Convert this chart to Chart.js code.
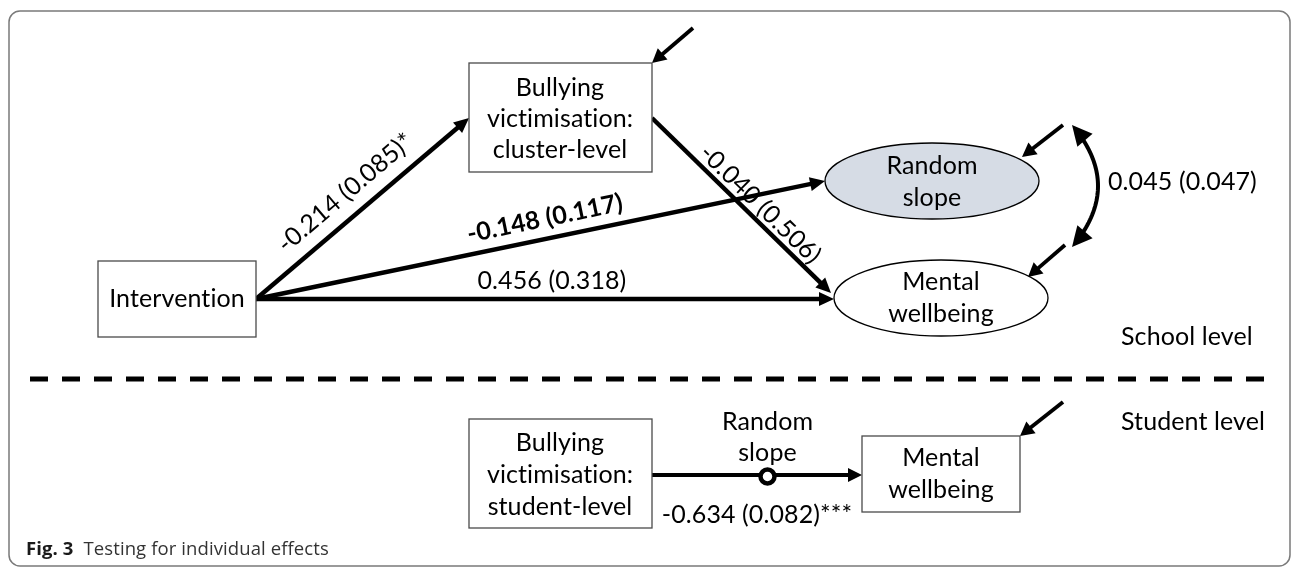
<!DOCTYPE html>
<html>
<head>
<meta charset="utf-8">
<script src="https://cdn.jsdelivr.net/npm/chart.js@4.4.1/dist/chart.umd.min.js"></script>
<style>
html,body{margin:0;padding:0;background:#fff;}
#wrap{width:1293px;height:567px;position:relative;}
canvas{font-variant-ligatures:none;}
</style>
</head>
<body>
<div id="wrap"><canvas id="c" width="1293" height="567"></canvas></div>
<script>
// ---------- DATA (text and estimates) ----------
const nodeTexts = [
  ['Intervention'],
  ['Bullying', 'victimisation:', 'cluster-level'],
  ['Random', 'slope'],
  ['Mental', 'wellbeing'],
  ['Bullying', 'victimisation:', 'student-level'],
  ['Mental', 'wellbeing']
];
const pathEstimates = ['-0.214 (0.085)*', '-0.148 (0.117)', '0.456 (0.318)', '-0.040 (0.506)'];
const covarianceEstimate = '0.045 (0.047)';
const studentEstimate = '-0.634 (0.082)***';
const randomSlopeLabel = ['Random', 'slope'];
const levelLabels = ['School level', 'Student level'];
const captionBold = 'Fig. 3';
const captionText = 'Testing for individual effects';

// ---------- LAYOUT (positions / sizes / styles) ----------
const W = 1293, H = 567;
const FONT = 'Lato, "Liberation Sans", sans-serif';
const FS = 25;
const layout = {
  nodes: [
    {shape: 'rect', x0: 98, y0: 261, x1: 256, y1: 337, cx: 177, ys: [299]},
    {shape: 'rect', x0: 469, y0: 63, x1: 652, y1: 172, cx: 560, ys: [88, 119, 150]},
    {shape: 'ellipse', cx: 932, cy: 181, rx: 107, ry: 38, fill: '#d6dce5', ys: [166, 198]},
    {shape: 'ellipse', cx: 941, cy: 298, rx: 107, ry: 38, fill: '#ffffff', ys: [282, 314]},
    {shape: 'rect', x0: 469, y0: 419, x1: 652, y1: 528, cx: 560, ys: [443, 475, 507]},
    {shape: 'rect', x0: 862, y0: 436, x1: 1020, y1: 512, cx: 941, ys: [458, 490]}
  ],
  paths: [
    {from: [256, 299], to: [469, 118], t: 0.49, off: 23, bold: false},
    {from: [256, 299], to: [825, 181], t: 0.515, off: 20, bold: true},
    {from: [256, 299], to: [834, 299], t: 0.512, off: 18, bold: false},
    {from: [652, 118], to: [831, 293], t: 0.55, off: 14, bold: false}
  ],
  residuals: [
    {from: [693, 28], to: [652, 63]},
    {from: [1063, 125], to: [1022, 157]},
    {from: [1065, 245], to: [1028, 277]},
    {from: [1063, 402], to: [1020, 436]}
  ],
  cov: {p0: [1072, 125], c: [1124, 186], p2: [1072, 247], labelX: 1108, labelY: 182},
  student: {from: [652, 475], to: [862, 475], circleT: 0.55, labelY: [422, 453], estX: 757, estY: 515},
  levels: [{x: 1121, y: 337}, {x: 1121, y: 422}],
  divider: {x0: 30, x1: 1276, y: 379},
  frame: {x0: 9, y0: 11, x1: 1290, y1: 566, r: 11},
  caption: {x: 26, y: 550}
};

const st = layout.student;
const circlePoint = {
  x: st.from[0] + (st.to[0] - st.from[0]) * st.circleT,
  y: st.from[1] + (st.to[1] - st.from[1]) * st.circleT + 1.5
};

function drawArrowHead(ctx, tx, ty, ang, hl, hw) {
  const bx = tx - hl * Math.cos(ang), by = ty - hl * Math.sin(ang);
  const nx = -Math.sin(ang), ny = Math.cos(ang);
  ctx.beginPath();
  ctx.moveTo(tx, ty);
  ctx.lineTo(bx + nx * hw, by + ny * hw);
  ctx.lineTo(bx - nx * hw, by - ny * hw);
  ctx.closePath();
  ctx.fill();
}
function drawArrow(ctx, x0, y0, x1, y1, lw, hl, hw) {
  const ang = Math.atan2(y1 - y0, x1 - x0);
  ctx.lineWidth = lw;
  ctx.beginPath();
  ctx.moveTo(x0, y0);
  ctx.lineTo(x1 - (hl - 2) * Math.cos(ang), y1 - (hl - 2) * Math.sin(ang));
  ctx.stroke();
  drawArrowHead(ctx, x1, y1, ang, hl, hw);
}

const diagramPlugin = {
  id: 'pathDiagram',
  beforeDatasetsDraw(chart) {
    const ctx = chart.ctx;
    const X = v => chart.scales.x.getPixelForValue(v);
    const Y = v => chart.scales.y.getPixelForValue(v);
    ctx.save();
    if ('letterSpacing' in ctx) ctx.letterSpacing = '0.1px';
    // frame
    const f = layout.frame;
    ctx.strokeStyle = '#7a7a7a';
    ctx.lineWidth = 1.5;
    ctx.beginPath();
    ctx.roundRect(X(f.x0), Y(f.y0), X(f.x1) - X(f.x0), Y(f.y1) - Y(f.y0), f.r);
    ctx.stroke();

    ctx.strokeStyle = '#000';
    ctx.fillStyle = '#000';
    ctx.lineCap = 'butt';
    // structural paths
    layout.paths.forEach(p => {
      drawArrow(ctx, X(p.from[0]), Y(p.from[1]), X(p.to[0]), Y(p.to[1]), 4.5, 15, 7);
    });
    // residual arrows
    layout.residuals.forEach(r => {
      drawArrow(ctx, X(r.from[0]), Y(r.from[1]), X(r.to[0]), Y(r.to[1]), 3.8, 14, 7.5);
    });
    // covariance curved double arrow
    const cv = layout.cov;
    const q = (t, a, b, c) => (1 - t) * (1 - t) * a + 2 * (1 - t) * t * b + t * t * c;
    ctx.lineWidth = 4;
    ctx.beginPath();
    for (let i = 0; i <= 40; i++) {
      const t = 0.1 + 0.8 * i / 40;
      const px = X(q(t, cv.p0[0], cv.c[0], cv.p2[0]));
      const py = Y(q(t, cv.p0[1], cv.c[1], cv.p2[1]));
      if (i === 0) ctx.moveTo(px, py); else ctx.lineTo(px, py);
    }
    ctx.stroke();
    drawArrowHead(ctx, X(cv.p0[0]), Y(cv.p0[1]), Math.atan2(cv.p0[1] - cv.c[1], cv.p0[0] - cv.c[0]), 20, 10);
    drawArrowHead(ctx, X(cv.p2[0]), Y(cv.p2[1]), Math.atan2(cv.p2[1] - cv.c[1], cv.p2[0] - cv.c[0]), 20, 10);
    // student-level path
    drawArrow(ctx, X(st.from[0]), Y(st.from[1]), X(st.to[0]), Y(st.to[1]), 4.2, 14, 7);

    // nodes
    layout.nodes.forEach((n, i) => {
      ctx.lineWidth = 1.3;
      if (n.shape === 'rect') {
        ctx.fillStyle = '#fff';
        ctx.strokeStyle = '#4a4a4a';
        ctx.fillRect(X(n.x0), Y(n.y0), X(n.x1) - X(n.x0), Y(n.y1) - Y(n.y0));
        ctx.strokeRect(X(n.x0), Y(n.y0), X(n.x1) - X(n.x0), Y(n.y1) - Y(n.y0));
      } else {
        ctx.fillStyle = n.fill;
        ctx.strokeStyle = '#000';
        ctx.beginPath();
        ctx.ellipse(X(n.cx), Y(n.cy), n.rx, n.ry, 0, 0, Math.PI * 2);
        ctx.fill();
        ctx.stroke();
      }
      ctx.fillStyle = '#000';
      ctx.font = FS + 'px ' + FONT;
      ctx.textAlign = 'center';
      ctx.textBaseline = 'middle';
      nodeTexts[i].forEach((line, k) => ctx.fillText(line, X(n.cx), Y(n.ys[k])));
    });

    // path labels (rotated along the arrow)
    layout.paths.forEach((p, i) => {
      const x0 = X(p.from[0]), y0 = Y(p.from[1]), x1 = X(p.to[0]), y1 = Y(p.to[1]);
      const ang = Math.atan2(y1 - y0, x1 - x0);
      const mx = x0 + (x1 - x0) * p.t + Math.sin(ang) * p.off;
      const my = y0 + (y1 - y0) * p.t - Math.cos(ang) * p.off;
      ctx.save();
      ctx.translate(mx, my);
      ctx.rotate(ang);
      ctx.font = (p.bold ? 'bold ' : '') + FS + 'px ' + FONT;
      ctx.textAlign = 'center';
      ctx.textBaseline = 'middle';
      ctx.fillText(pathEstimates[i], 0, 0);
      ctx.restore();
    });

    ctx.font = FS + 'px ' + FONT;
    ctx.textBaseline = 'middle';
    ctx.textAlign = 'left';
    ctx.fillText(covarianceEstimate, X(cv.labelX), Y(cv.labelY));
    layout.levels.forEach((l, i) => ctx.fillText(levelLabels[i], X(l.x), Y(l.y)));
    ctx.textAlign = 'center';
    randomSlopeLabel.forEach((t, i) => ctx.fillText(t, X(circlePoint.x), Y(st.labelY[i])));
    ctx.fillText(studentEstimate, X(st.estX), Y(st.estY));

    // caption
    const cp = layout.caption;
    ctx.textAlign = 'left';
    ctx.font = 'bold 18.5px "Open Sans", "Noto Sans", sans-serif';
    ctx.fillStyle = '#1a1a1a';
    ctx.fillText(captionBold, X(cp.x), Y(cp.y));
    const bw = ctx.measureText(captionBold).width;
    ctx.font = '18.5px "Open Sans", "Noto Sans", sans-serif';
    ctx.fillStyle = '#333';
    ctx.fillText(captionText, X(cp.x) + bw + 10, Y(cp.y));
    ctx.restore();
  }
};

function build() {
  new Chart(document.getElementById('c'), {
    type: 'scatter',
    data: {
      datasets: [
        {
          type: 'line',
          data: [{x: layout.divider.x0, y: layout.divider.y}, {x: layout.divider.x1, y: layout.divider.y}],
          borderColor: '#000',
          borderWidth: 5,
          borderDash: [18, 14],
          pointRadius: 0,
          fill: false
        },
        {
          data: [circlePoint],
          pointRadius: 7,
          pointBorderWidth: 4.5,
          borderColor: '#000',
          backgroundColor: '#fff',
          pointBackgroundColor: '#fff',
          pointBorderColor: '#000'
        }
      ]
    },
    options: {
      responsive: false,
      animation: false,
      devicePixelRatio: 1,
      layout: {padding: 0, autoPadding: false},
      plugins: {legend: {display: false}, tooltip: {enabled: false}},
      scales: {
        x: {type: 'linear', min: 0, max: W, display: false},
        y: {type: 'linear', min: 0, max: H, reverse: true, display: false}
      }
    },
    plugins: [diagramPlugin]
  });
}
if (document.fonts && document.fonts.load) {
  Promise.all([
    document.fonts.load(FS + 'px Lato'),
    document.fonts.load('bold ' + FS + 'px Lato'),
    document.fonts.load('18.5px "Open Sans"'),
    document.fonts.load('bold 18.5px "Open Sans"')
  ]).then(build, build);
} else { build(); }
</script>
</body>
</html>
